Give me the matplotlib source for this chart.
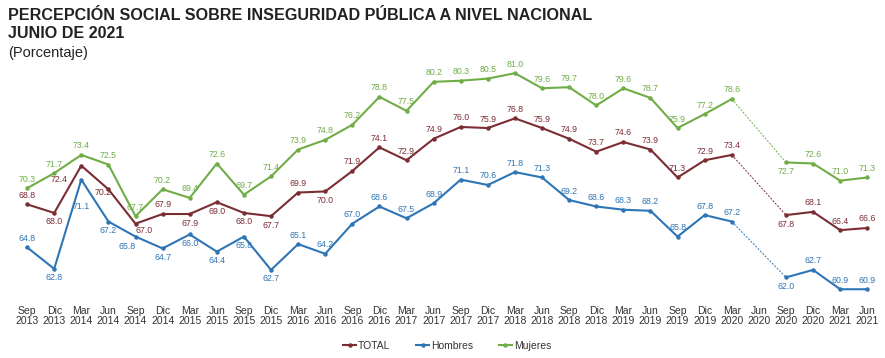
import numpy as np
import matplotlib.pyplot as plt

plt.rcParams['font.family'] = ['Liberation Sans', 'DejaVu Sans']

# datos
meses = ["Sep", "Dic", "Mar", "Jun"]
periodos = []
for i in range(32):
    m = meses[i % 4]
    anio = 2013 + (i + 2) // 4
    periodos.append(m + "\n" + str(anio))

total = [68.8, 68.0, 72.4, 70.2, 67.0, 67.9, 67.9, 69.0, 68.0, 67.7, 69.9, 70.0,
         71.9, 74.1, 72.9, 74.9, 76.0, 75.9, 76.8, 75.9, 74.9, 73.7, 74.6, 73.9,
         71.3, 72.9, 73.4, np.nan, 67.8, 68.1, 66.4, 66.6]
hombres = [64.8, 62.8, 71.1, 67.2, 65.8, 64.7, 66.0, 64.4, 65.8, 62.7, 65.1, 64.2,
           67.0, 68.6, 67.5, 68.9, 71.1, 70.6, 71.8, 71.3, 69.2, 68.6, 68.3, 68.2,
           65.8, 67.8, 67.2, np.nan, 62.0, 62.7, 60.9, 60.9]
mujeres = [70.3, 71.7, 73.4, 72.5, 67.7, 70.2, 69.4, 72.6, 69.7, 71.4, 73.9, 74.8,
           76.2, 78.8, 77.5, 80.2, 80.3, 80.5, 81.0, 79.6, 79.7, 78.0, 79.6, 78.7,
           75.9, 77.2, 78.6, np.nan, 72.7, 72.6, 71.0, 71.3]

# posicion de etiquetas: a = arriba, b = abajo
pos_total = list("abbbbabbbbabaaaaaaaaaaaaaaa" + "-" + "baaa")
pos_hombres = list("abbbbbbbbbaaaaaaaaaaaaaaaaa" + "-" + "baaa")
pos_mujeres = list("aaaaaaaaaaaaaaaaaaaaaaaaaaa" + "-" + "baaa")
# casos especiales (dx, dy en puntos)
especial_total = {2: (-16, -10), 3: (-4, -2), 4: (6, -5)}
especial_hombres = {2: (0, -19), 4: (-6, -7)}

c_total = "#7B2D34"
c_hom = "#2E75B6"
c_muj = "#70AD47"

fig = plt.figure(figsize=(8.85, 3.58), dpi=100)
ax = fig.add_axes([0.0153, 0.162, 0.98, 0.656])
x = np.arange(len(periodos))

def serie(vals, color, nombre, pos, especial):
    vals = np.array(vals)
    ax.plot(x, vals, color=color, lw=1.5, marker="o", ms=2.2, label=nombre)
    # tramo sin dato (Jun 2020)
    ax.plot([x[26], x[28]], [vals[26], vals[28]], color=color, lw=0.7,
            ls=(0, (2, 1.5)))
    for i in range(len(vals)):
        if np.isnan(vals[i]):
            continue
        if i in especial:
            dx, dy = especial[i]
        elif pos[i] == "a":
            dx, dy = 0, 6.5
        else:
            dx, dy = 0, -6.5
        ax.annotate("%.1f" % vals[i], (x[i], vals[i]), xytext=(dx, dy),
                    textcoords="offset points", ha="center", va="center",
                    fontsize=6.3, color=color)

serie(total, c_total, "TOTAL", pos_total, especial_total)
serie(hombres, c_hom, "Hombres", pos_hombres, especial_hombres)
serie(mujeres, c_muj, "Mujeres", pos_mujeres, {})

ax.set_xlim(-0.5, 31.5)
ax.set_ylim(59.9, 81.75)
ax.set_xticks(x)
ax.set_xticklabels(periodos, fontsize=7.5, color="#333333", linespacing=1.0)
ax.tick_params(axis="x", length=0, pad=4)
ax.set_yticks([])
for s in ax.spines.values():
    s.set_visible(False)

ax.legend(loc="upper center", bbox_to_anchor=(0.5, -0.135), ncol=3, frameon=False,
          fontsize=7.5, handlelength=1.2, handletextpad=0.2, columnspacing=2.5,
          labelcolor="#333333")

fig.text(0.009, 0.943, "PERCEPCIÓN SOCIAL SOBRE INSEGURIDAD PÚBLICA A NIVEL NACIONAL",
         fontsize=11.6, fontweight="bold", color="#222222")
fig.text(0.009, 0.893, "JUNIO DE 2021", fontsize=11.6, fontweight="bold", color="#222222")
fig.text(0.009, 0.840, "(Porcentaje)", fontsize=10.5, color="#222222")

fig.savefig("out.png", dpi=100)
